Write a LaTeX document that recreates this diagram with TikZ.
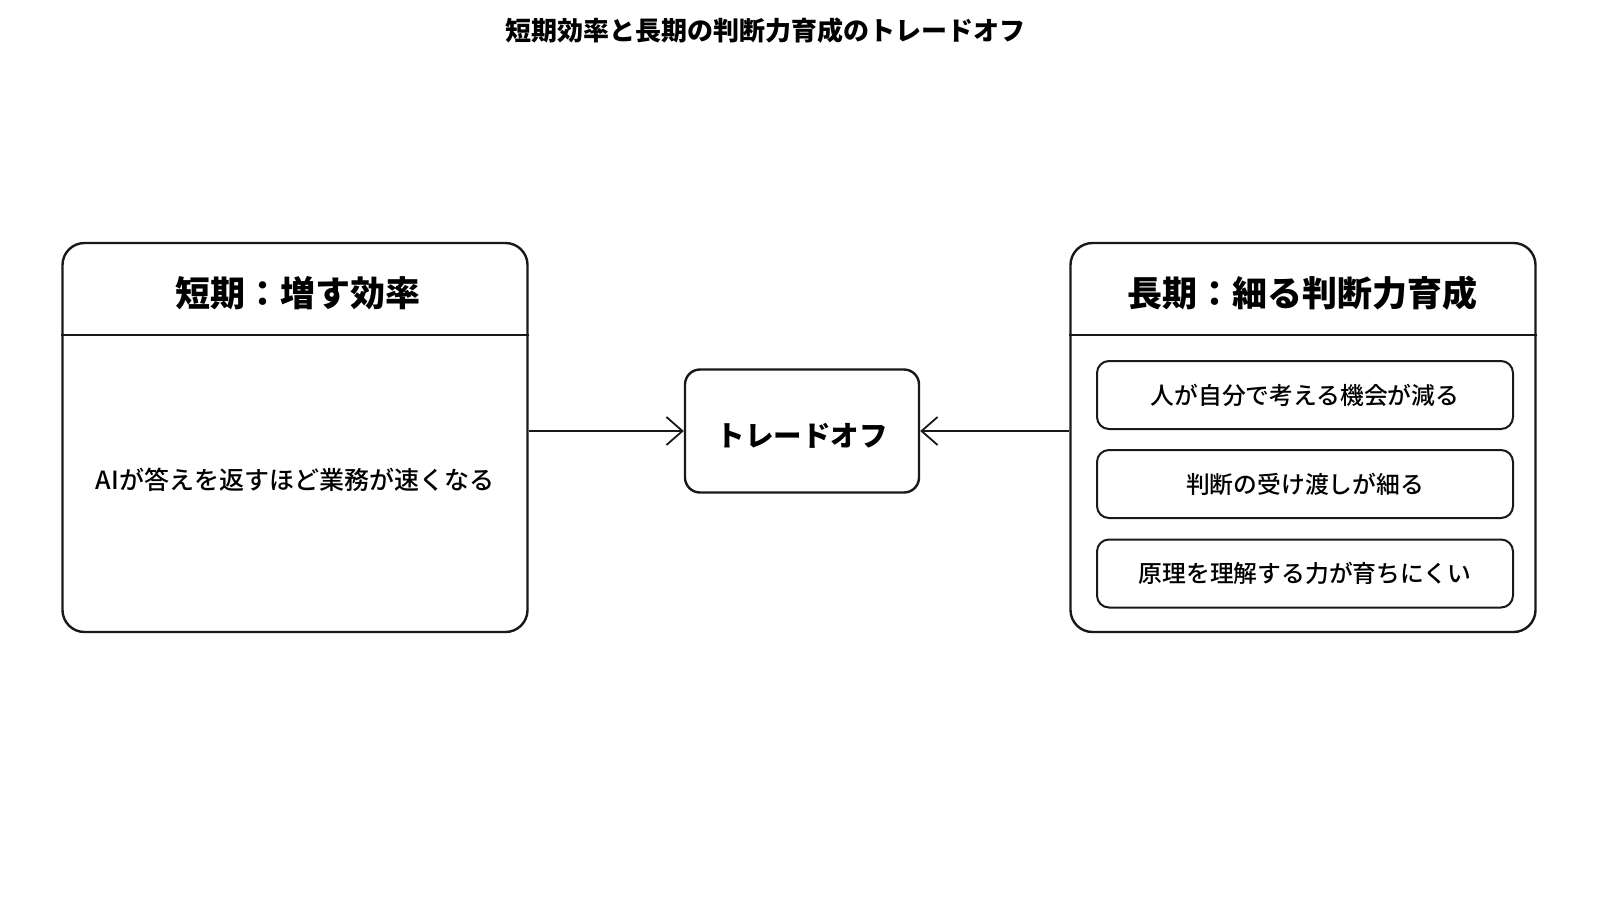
\documentclass[tikz,border=0pt]{standalone}
\usepackage{fontspec}
\setmainfont{Noto Sans CJK JP}
\newfontfamily\jpmed{Noto Sans CJK JP Medium}
\usetikzlibrary{arrows.meta}
\begin{document}
\begin{tikzpicture}[x=1pt,y=-1pt,
  outer/.style={draw=black!90, line width=2.4pt, rounded corners=22pt, minimum width=465pt, minimum height=389pt, inner sep=0pt},
  mid/.style={draw=black!90, line width=2.4pt, rounded corners=15pt, minimum width=234pt, minimum height=123pt, inner sep=0pt, font=\fontsize{28.5}{32}\selectfont\bfseries},
  item/.style={draw=black!90, line width=2pt, rounded corners=12pt, minimum width=416pt, minimum height=68pt, inner sep=0pt, font=\jpmed\fontsize{23.8}{27}\selectfont},
  head/.style={font=\fontsize{35}{40}\selectfont\bfseries, inner sep=0pt},
  body/.style={font=\jpmed\fontsize{25}{30}\selectfont, inner sep=0pt},
  sep/.style={line width=2pt, draw=black!90},
  conn/.style={line width=1.8pt, draw=black!90, -{Straight Barb[length=16pt,width=28pt,line width=1.8pt]}}
]
\useasboundingbox[fill=white] (0,0) rectangle (1600,900);
\node[font=\fontsize{26}{30}\selectfont\bfseries, inner sep=0pt] (title) at (765,31) {短期効率と長期の判断力育成のトレードオフ};

\node[outer] (L) at (295,437.5) {};
\node[outer] (R) at (1303,437.5) {};
\draw[sep] (L.west |- 0,335) -- (L.east |- 0,335);
\draw[sep] (R.west |- 0,335) -- (R.east |- 0,335);

\node[head] (Lh) at (298,293) {短期：増す効率};
\node[head] (Rh) at (1302,293) {長期：細る判断力育成};

\node[body] (Lb) at (295,480) {AIが答えを返すほど業務が速くなる};

\node[mid] (M) at (802,431) {\raisebox{-15pt}[0pt][0pt]{トレードオフ}};

\node[item] (R1) at (1305,395) {人が自分で考える機会が減る};
\node[item] (R2) at (1305,484) {判断の受け渡しが細る};
\node[item] (R3) at (1305,573.5) {原理を理解する力が育ちにくい};

\draw[conn] (M.west -| L.east) -- (M.west);
\draw[conn] (M.east -| R.west) -- (M.east);
\end{tikzpicture}
\end{document}
